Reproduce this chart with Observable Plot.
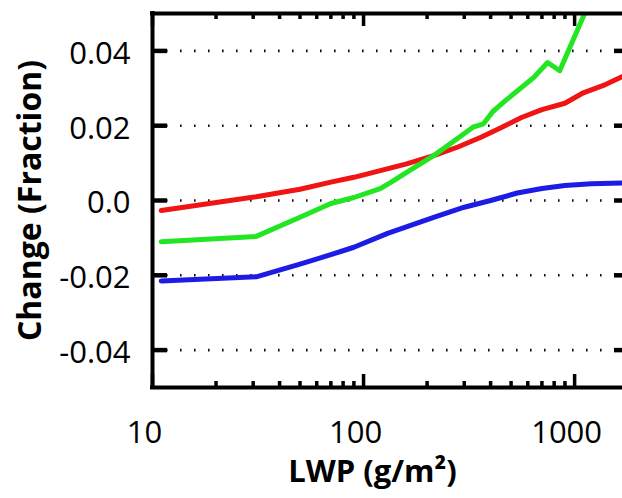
<!DOCTYPE html>
<html>
<head>
<meta charset="utf-8">
<script src="https://cdn.jsdelivr.net/npm/d3@7"></script>
<script src="https://cdn.jsdelivr.net/npm/@observablehq/plot@0.6"></script>
<style>
html, body { margin: 0; padding: 0; background: #fff; overflow: hidden; }
</style>
</head>
<body>
<div id="chart"></div>
<script>
// ---- data ----
const lwpRed    = [11, 31, 50, 70, 90, 120, 160, 215, 280, 360, 450, 560, 700, 900, 1100, 1400, 1820];
const changeRed = [-0.0027, 0.001, 0.003, 0.0049, 0.0062, 0.008, 0.0098, 0.012, 0.0143, 0.0169, 0.0195, 0.0222, 0.0243, 0.026, 0.0288, 0.031, 0.034];

const lwpGreen    = [11, 31, 50, 70, 90, 120, 134, 165, 215, 285, 330, 370, 410, 470, 640, 745, 850, 1110, 1200];
const changeGreen = [-0.011, -0.0096, -0.0045, -0.0008, 0.0008, 0.0032, 0.0048, 0.008, 0.012, 0.017, 0.0196, 0.0205, 0.0238, 0.0267, 0.0329, 0.0369, 0.0347, 0.0497, 0.055];

const lwpBlue    = [11, 31, 50, 70, 90, 130, 215, 300, 400, 535, 700, 900, 1200, 1820];
const changeBlue = [-0.0215, -0.0204, -0.017, -0.0145, -0.0125, -0.0088, -0.0045, -0.0018, 0.0, 0.002, 0.0032, 0.004, 0.0045, 0.0047];

const xMajor = [10, 100, 1000];
const xTickLabels = ["10", "100", "1000"];
const xMinor = [20, 30, 40, 50, 60, 70, 80, 90, 200, 300, 400, 500, 600, 700, 800, 900];
const yTicks = [-0.04, -0.02, 0, 0.02, 0.04];
const yTickLabels = ["-0.04", "-0.02", "0.0", "0.02", "0.04"];

const xTitle = "LWP (g/m²)";
const yTitle = "Change (Fraction)";

const xMin = 10, xMax = 1820, yMin = -0.05, yMax = 0.05;

const toRows = (xs, ys) => xs.map((x, i) => ({x, y: ys[i]}));
const red = toRows(lwpRed, changeRed);
const green = toRows(lwpGreen, changeGreen);
const blue = toRows(lwpBlue, changeBlue);

const plot = Plot.plot({
  width: 622,
  height: 498,
  marginLeft: 152,
  marginRight: 0,
  marginTop: 13,
  marginBottom: 111,
  style: {fontFamily: "'Open Sans', sans-serif", color: "#000", background: "#fff"},
  x: {type: "log", domain: [xMin, xMax], range: [152, 629], axis: null},
  y: {domain: [yMin, yMax], axis: null},
  marks: [
    // dotted grid
    Plot.ruleY(yTicks, {x1: xMin, x2: xMax, stroke: "#111", strokeWidth: 2.6, strokeDasharray: "1.6,12.4"}),
    // series
    Plot.line(blue, {x: "x", y: "y", stroke: "#1c1ce6", strokeWidth: 5, clip: true, strokeLinejoin: "round"}),
    Plot.line(red, {x: "x", y: "y", stroke: "#f01414", strokeWidth: 5, clip: true, strokeLinejoin: "round"}),
    Plot.line(green, {x: "x", y: "y", stroke: "#22e622", strokeWidth: 5, clip: true, strokeLinejoin: "round"}),
    // frame
    Plot.ruleX([xMin], {y1: yMin, y2: yMax, stroke: "#000", strokeWidth: 4, strokeLinecap: "square"}),
    Plot.ruleY([yMin, yMax], {x1: xMin, x2: xMax, stroke: "#000", strokeWidth: 4, strokeLinecap: "square"}),
    // y ticks (inward)
    Plot.ruleY(yTicks, {x1: xMin, x2: xMin, insetRight: -15, stroke: "#000", strokeWidth: 4.5}),
    Plot.ruleY(yTicks, {x1: xMax, x2: xMax, insetLeft: -15, stroke: "#000", strokeWidth: 4.5}),
    // x ticks bottom (inward)
    Plot.ruleX(xMajor, {x: d => d, y1: yMin, y2: yMin, insetTop: -13, stroke: "#000", strokeWidth: 3.5}),
    Plot.ruleX(xMinor, {x: d => d, y1: yMin, y2: yMin, insetTop: -6, stroke: "#000", strokeWidth: 3.5}),
    // x ticks top (inward)
    Plot.ruleX(xMajor, {x: d => d, y1: yMax, y2: yMax, insetBottom: -13, stroke: "#000", strokeWidth: 3.5}),
    Plot.ruleX(xMinor, {x: d => d, y1: yMax, y2: yMax, insetBottom: -6, stroke: "#000", strokeWidth: 3.5}),
    // tick labels
    Plot.text(xMajor, {x: d => d, y: yMin, text: xTickLabels, dy: 46, dx: -8, fontSize: 31, fill: "#000"}),
    Plot.text(yTicks, {x: xMin, y: d => d, text: yTickLabels, textAnchor: "end", dx: -22, dy: 3, fontSize: 31, fill: "#000"}),
    // titles
    Plot.text([xTitle], {frameAnchor: "bottom", textAnchor: "middle", dx: -15, dy: 94, fontSize: 31, fontWeight: "bold", fill: "#000"}),
    Plot.text([yTitle], {frameAnchor: "left", textAnchor: "middle", dx: -122, rotate: -90, fontSize: 32, fontWeight: "bold", fill: "#000"})
  ]
});
document.getElementById("chart").appendChild(plot);
</script>
</body>
</html>
